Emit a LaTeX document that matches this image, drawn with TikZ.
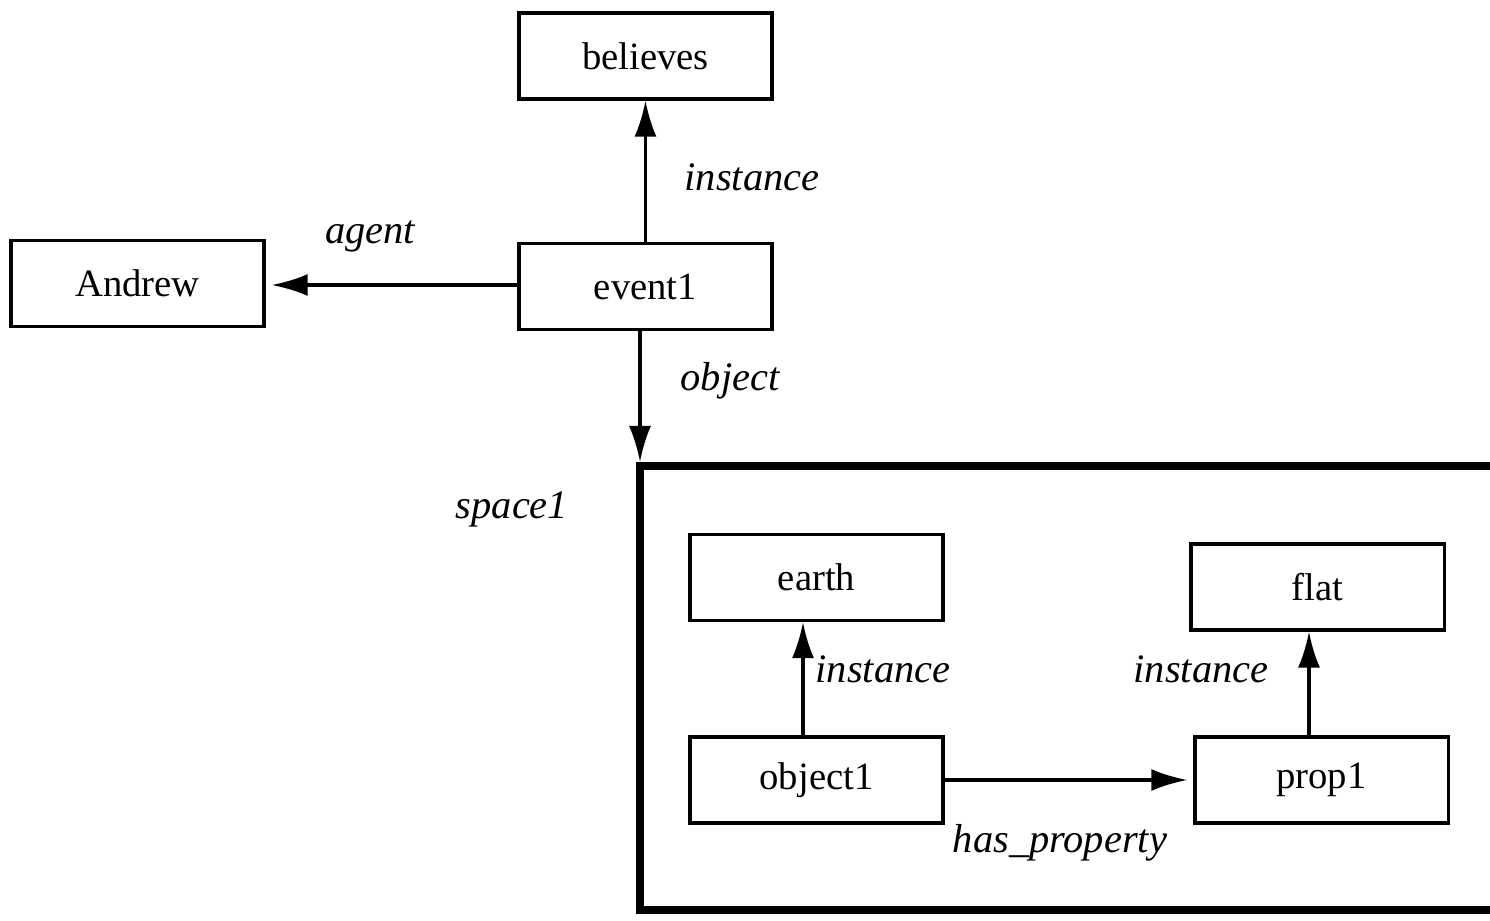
\documentclass[tikz,border=0pt]{standalone}
\usepackage{fontspec}
\setmainfont{Liberation Serif}
\usetikzlibrary{arrows.meta,positioning,calc}

\tikzset{
  concept/.style={draw, rectangle, line width=0.9pt, minimum width=2.53cm, minimum height=0.86cm, inner sep=0pt, font=\fontsize{11}{13}\selectfont},
  rel/.style={line width=0.9pt, -{Latex[length=0.36cm,width=0.22cm]}},
  rellabel/.style={font=\fontsize{11.5}{14}\selectfont\itshape, inner sep=1pt},
  spacebox/.style={line width=2.3pt}
}

\begin{document}
\begin{tikzpicture}[x=0.01cm, y=-0.01cm]
				\useasboundingbox (0,0) rectangle (1490,921);
				
				% Draw top level concepts
				\node[concept] (believes) at (645.5,56) {believes};
				\node[concept] (event1) at (645.5,286.5) {event1};
				\node[concept] (andrew) at (137.5,283.5) {Andrew};
				
				% Draw the space
				\coordinate (space) at (640,466);
				\draw[spacebox] (1490,466) -- (space) -- (640,910) -- (1490,910);
				\node[rellabel] (spacelabel) at (512,509) {space1};
				
				% Draw concepts inside the space
				\node[concept] (earth) at (816.5,577.5) {earth};
				\node[concept] (flat) at (1317.5,587) {flat};
				\node[concept] (object1) at (816.5,780) {object1};
				\node[concept] (prop1) at (1321.5,780) {prop1};
				
				% Relations of event1
				\draw[rel] (event1.north) -- (believes.south);
				\draw[rel, shorten >=0.06cm] ([yshift=0.015cm]event1.west) -- ([yshift=0.015cm]event1.west -| andrew.east);
				\draw[rel, shorten >=0.04cm] (event1.south -| space) -- (space);
				\node[rellabel] (instancetop) at (752,177) {instance};
				\node[rellabel] (agentlabel) at (370,236) {agent};
				\node[rellabel] (objectlabel) at (730,381) {object};
				
				% Relations inside the space
				\draw[rel] ([xshift=-0.135cm]object1.north) -- ([xshift=-0.135cm]earth.south);
				\draw[rel] ([xshift=-0.125cm]prop1.north) -- ([xshift=-0.125cm]prop1.north |- flat.south);
				\draw[rel, shorten >=0.06cm] (object1.east) -- (prop1.west);
				\node[rellabel] (instanceearth) at (883,669) {instance};
				\node[rellabel] (instanceflat) at (1201,669) {instance};
				\node[rellabel] (haslabel) at (1060,843) {has\_property};
			\end{tikzpicture}
\end{document}
